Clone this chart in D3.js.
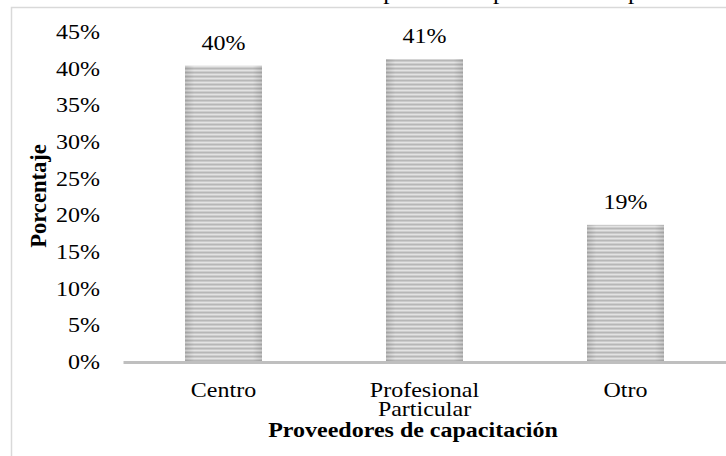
<!DOCTYPE html>
<html>
<head>
<meta charset="utf-8">
<script src="https://cdn.jsdelivr.net/npm/d3@7"></script>
<style>
  html, body { margin: 0; padding: 0; background: #fff; }
  svg { display: block; }
  text { font-family: "Liberation Serif", "Times New Roman", serif; fill: #000; }
</style>
</head>
<body>
<svg id="chart" width="726" height="456"></svg>
<script>
// Proveedores de capacitación (share of respondents)
const categories = ["Centro", "Profesional Particular", "Otro"];
const values = [0.404, 0.413, 0.187];
const yTicks = [0, 0.05, 0.10, 0.15, 0.20, 0.25, 0.30, 0.35, 0.40, 0.45];

const svg = d3.select("#chart");
const W = 726, H = 456;
const plot = { left: 123, right: 726, top: 32, bottom: 362 };
const SX = 1.2; // horizontal widening of the serif lettering

// widen a text element horizontally around its anchor x
function widen(sel, ax) {
  sel.attr("transform", `translate(${ax},0) scale(${SX},1) translate(${-ax},0)`);
}

// Striped grey fill for the bars
const defs = svg.append("defs");
const pat = defs.append("pattern")
  .attr("id", "stripes")
  .attr("patternUnits", "userSpaceOnUse")
  .attr("width", 8).attr("height", 4);
[["#b7b7b7", 0], ["#cbcbcb", 1], ["#e3e3e3", 2], ["#cecece", 3]].forEach(([c, y]) => {
  pat.append("rect").attr("x", 0).attr("y", y).attr("width", 8).attr("height", 1).attr("fill", c);
});
// soft darkening toward the bar edges
const edge = defs.append("linearGradient").attr("id", "edgeShade")
  .attr("x1", 0).attr("x2", 1).attr("y1", 0).attr("y2", 0);
[[0, 0.12], [0.12, 0], [0.88, 0], [1, 0.12]].forEach(([o, a]) => {
  edge.append("stop").attr("offset", o).attr("stop-color", "#000").attr("stop-opacity", a);
});

// Title line above the frame (mostly outside the page)
const title = svg.append("text")
  .attr("x", 22).attr("y", -1)
  .style("font-size", "21px")
  .text("Cuadro N° 1.1.1. Proveedores de capacitación para de la empresa");
widen(title, 22);

// Chart frame
svg.append("rect")
  .attr("x", 11.5).attr("y", 7.5)
  .attr("width", W + 20).attr("height", H + 20)
  .attr("fill", "#fff")
  .attr("stroke", "#d9d9d9").attr("stroke-width", 1.5);

const x = d3.scaleBand()
  .domain(categories)
  .range([plot.left, plot.right])
  .paddingInner(0.617)
  .paddingOuter(0.3085);

const y = d3.scaleLinear()
  .domain([0, 0.45])
  .range([plot.bottom, plot.top]);

// Y axis labels (no line, no ticks)
const yAxis = d3.axisLeft(y)
  .tickValues(yTicks)
  .tickFormat(d3.format(".0%"))
  .tickSize(0)
  .tickPadding(0);
const gy = svg.append("g")
  .attr("transform", "translate(100,0)")
  .call(yAxis);
gy.select(".domain").remove();
gy.selectAll("text")
  .style("font-family", "'Liberation Serif', 'Times New Roman', serif")
  .style("font-size", "20px")
  .attr("fill", "#000")
  .attr("transform", `scale(${SX},1)`);

// Bars
const bars = svg.append("g");
["url(#stripes)", "url(#edgeShade)"].forEach(fill => {
  bars.append("g").selectAll("rect")
    .data(categories)
    .join("rect")
    .attr("x", d => x(d))
    .attr("width", x.bandwidth())
    .attr("y", (d, i) => y(values[i]))
    .attr("height", (d, i) => y(0) - y(values[i]))
    .attr("fill", fill);
});

// Value labels
svg.append("g").selectAll("text")
  .data(categories)
  .join("text")
  .attr("x", d => x(d) + x.bandwidth() / 2)
  .attr("y", (d, i) => y(values[i]) - 16)
  .attr("text-anchor", "middle")
  .style("font-size", "20px")
  .text((d, i) => d3.format(".0%")(values[i]))
  .each(function(d) { widen(d3.select(this), x(d) + x.bandwidth() / 2); });

// X axis baseline and category labels
const xAxis = d3.axisBottom(x).tickSize(0).tickPadding(0);
const gx = svg.append("g")
  .attr("transform", `translate(0,${plot.bottom})`)
  .call(xAxis);
gx.select(".domain")
  .attr("stroke", "#bfbfbf")
  .attr("stroke-width", 3);
gx.selectAll(".tick text").remove();
gx.selectAll(".tick").each(function(d) {
  const words = d.split(" ");
  const t = d3.select(this).append("text")
    .attr("text-anchor", "middle")
    .attr("y", 35)
    .style("font-size", "20px")
    .attr("fill", "#000")
    .attr("transform", `scale(${SX},1)`);
  words.forEach((w, i) => {
    t.append("tspan").attr("x", 0).attr("dy", i === 0 ? 0 : 19).text(w);
  });
});

// Axis titles
const cx = 413;
const xt = svg.append("text")
  .attr("x", cx)
  .attr("y", 437)
  .attr("text-anchor", "middle")
  .style("font-size", "20px")
  .style("font-weight", "bold")
  .text("Proveedores de capacitación");
widen(xt, cx);

svg.append("text")
  .attr("transform", `translate(46,196) scale(${SX},1.13) rotate(-90)`)
  .attr("text-anchor", "middle")
  .style("font-size", "20px")
  .style("font-weight", "bold")
  .text("Porcentaje");
</script>
</body>
</html>
